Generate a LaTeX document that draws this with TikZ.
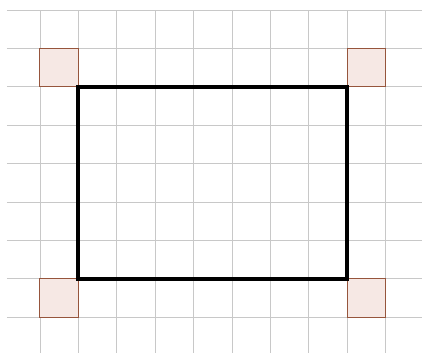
\documentclass[tikz,border=0pt]{standalone}
\usepackage{tikz}

\begin{document}
\begin{tikzpicture}
  % Définir les couleurs du schéma
  \definecolor{gridcolor}{RGB}{200,200,200}
  \definecolor{cornerfill}{RGB}{246,232,228}
  \definecolor{cornerdraw}{RGB}{150,85,60}

  % Fixer les marges
  \useasboundingbox (-1.04,-0.95) rectangle (10.0,8.26);

  % Dessiner le quadrillage
  \foreach \x in {0,...,9}
    \draw[gridcolor, line width=0.6pt] (\x,-0.92) -- (\x,8);
  \foreach \y in {0,...,8}
    \draw[gridcolor, line width=0.6pt] (-0.86,\y) -- (9.96,\y);

  % Dessiner les petits carrés dans les coins
  \foreach \x/\y in {0/6, 8/6, 0/0, 8/0}
    \draw[cornerdraw, fill=cornerfill, line width=0.7pt] (\x,\y) rectangle ++(1,1);

  % Dessiner le grand rectangle
  \draw[black, line width=3pt] (1,1) rectangle (8,6);
\end{tikzpicture}
\end{document}
